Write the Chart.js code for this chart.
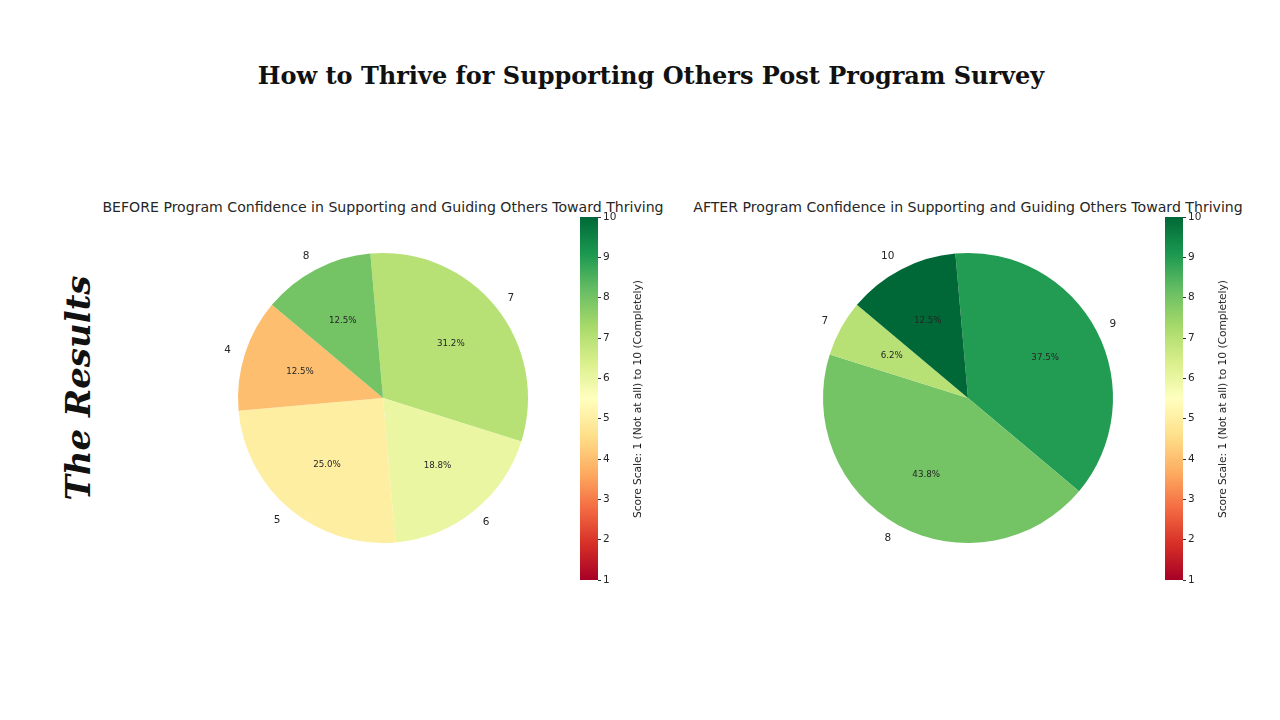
<!DOCTYPE html>
<html>
<head>
<meta charset="utf-8">
<script src="https://cdn.jsdelivr.net/npm/chart.js@4.4.1/dist/chart.umd.min.js"></script>
<style>
  html, body { margin:0; padding:0; background:#fff; }
  body { width:1280px; height:720px; position:relative; overflow:hidden; font-family:"DejaVu Sans", sans-serif; }
  .abs { position:absolute; }
  #mainTitle { left:0; width:1302px; top:61px; text-align:center; font-family:"DejaVu Serif", serif; font-weight:bold; font-size:24px; color:#111; white-space:nowrap; }
  #results { left:78px; top:388px; transform:translate(-50%,-50%) rotate(-90deg); font-family:"DejaVu Serif", serif; font-style:italic; font-weight:bold; font-size:34px; color:#111; white-space:nowrap; }
  .ptitle { top:199px; font-size:14.1px; color:#262626; white-space:nowrap; transform:translateX(-50%); }
  .cblabel { font-size:10.6px; color:#1a1a1a; white-space:nowrap; transform:translate(-50%,-50%) rotate(-90deg); }
  canvas { display:block; }
</style>
</head>
<body>
<div id="mainTitle" class="abs">How to Thrive for Supporting Others Post Program Survey</div>
<div id="results" class="abs">The Results</div>

<div class="abs ptitle" style="left:383px;">BEFORE Program Confidence in Supporting and Guiding Others Toward Thriving</div>
<div class="abs ptitle" style="left:968px;">AFTER Program Confidence in Supporting and Guiding Others Toward Thriving</div>

<div class="abs" style="left:183px;top:198px;width:400px;height:400px;"><canvas id="pieBefore"></canvas></div>
<div class="abs" style="left:768px;top:198px;width:400px;height:400px;"><canvas id="pieAfter"></canvas></div>

<div class="abs" style="left:560px;top:200px;width:80px;height:400px;"><canvas id="cbBefore"></canvas></div>
<div class="abs" style="left:1145px;top:200px;width:80px;height:400px;"><canvas id="cbAfter"></canvas></div>

<div class="abs cblabel" style="left:637px;top:399px;">Score Scale: 1 (Not at all) to 10 (Completely)</div>
<div class="abs cblabel" style="left:1222px;top:399px;">Score Scale: 1 (Not at all) to 10 (Completely)</div>

<script>
// ---- Data ----
const beforeScores = ['7', '6', '5', '4', '8'];
const beforeCounts = [5, 3, 4, 2, 2];
const afterScores = ['9', '8', '7', '10'];
const afterCounts = [6, 7, 1, 2];
const scaleTicks = [1, 2, 3, 4, 5, 6, 7, 8, 9, 10];
const scaleMin = 1;
const scaleMax = 10;

// RdYlGn colormap stops
const rdylgn = ['#a50026','#d73027','#f46d43','#fdae61','#fee08b','#ffffbf','#d9ef8b','#a6d96a','#66bd63','#1a9850','#006837'];

function hexToRgb(h){ return [parseInt(h.slice(1,3),16), parseInt(h.slice(3,5),16), parseInt(h.slice(5,7),16)]; }
function cmap(t){
  t = Math.max(0, Math.min(1, t));
  const pos = t * (rdylgn.length - 1);
  const i = Math.min(Math.floor(pos), rdylgn.length - 2);
  const f = pos - i;
  const a = hexToRgb(rdylgn[i]), b = hexToRgb(rdylgn[i+1]);
  const c = a.map((v,k)=>Math.round(v + (b[k]-v)*f));
  return 'rgb(' + c.join(',') + ')';
}
function scoreColor(s){ return cmap((Number(s) - scaleMin) / (scaleMax - scaleMin)); }

function fmtPct(p){
  const x = p * 10;
  const f = Math.floor(x);
  let r;
  if (Math.abs((x - f) - 0.5) < 1e-9) r = (f % 2 === 0) ? f : f + 1;
  else r = Math.round(x);
  return (r / 10).toFixed(1) + '%';
}

const pieLabelPlugin = {
  id: 'pieLabels',
  afterDatasetsDraw(chart){
    const ctx = chart.ctx;
    const meta = chart.getDatasetMeta(0);
    const data = chart.data.datasets[0].data;
    const total = data.reduce((a,b)=>a+b,0);
    ctx.save();
    meta.data.forEach((arc, i) => {
      const p = arc.getProps(['x','y','startAngle','endAngle','outerRadius'], true);
      const mid = (p.startAngle + p.endAngle) / 2;
      const cx = Math.cos(mid), cy = Math.sin(mid);
      ctx.font = '10.5px "DejaVu Sans"';
      ctx.fillStyle = '#262626';
      ctx.textBaseline = 'middle';
      ctx.textAlign = cx > 0 ? 'left' : 'right';
      ctx.fillText(chart.data.labels[i], p.x + cx * p.outerRadius * 1.1, p.y + cy * p.outerRadius * 1.1);
      ctx.font = '8.7px "DejaVu Sans"';
      ctx.textAlign = 'center';
      ctx.fillText(fmtPct(data[i] / total * 100), p.x + cx * p.outerRadius * 0.6, p.y + cy * p.outerRadius * 0.6);
    });
    ctx.restore();
  }
};

function makePie(id, labels, counts){
  new Chart(document.getElementById(id), {
    type: 'pie',
    data: { labels: labels, datasets: [{ data: counts, backgroundColor: labels.map(scoreColor), borderWidth: 0, hoverOffset: 0 }] },
    options: {
      responsive: true, maintainAspectRatio: false, animation: false,
      rotation: -5,
      layout: { padding: 55 },
      plugins: { legend: { display: false }, tooltip: { enabled: false }, title: { display: false } },
      events: []
    },
    plugins: [pieLabelPlugin]
  });
}
makePie('pieBefore', beforeScores, beforeCounts);
makePie('pieAfter', afterScores, afterCounts);

function makeColorbar(id){
  new Chart(document.getElementById(id), {
    type: 'bar',
    data: { labels: [''], datasets: [{
      data: [[scaleMin, scaleMax]],
      borderWidth: 0,
      barPercentage: 1, categoryPercentage: 1,
      backgroundColor: (c) => {
        const ch = c.chart; const y = ch.scales.y;
        if (!ch.chartArea || !y) return '#ccc';
        const g = ch.ctx.createLinearGradient(0, y.getPixelForValue(scaleMin), 0, y.getPixelForValue(scaleMax));
        for (let k = 0; k <= 40; k++) g.addColorStop(k/40, cmap(k/40));
        return g;
      }
    }]},
    options: {
      responsive: true, maintainAspectRatio: false, animation: false, events: [],
      layout: { padding: { left: 20, right: 12, top: 17, bottom: 20 } },
      plugins: { legend: { display: false }, tooltip: { enabled: false } },
      scales: {
        x: { display: false },
        y: {
          position: 'right', min: scaleMin, max: scaleMax,
          afterBuildTicks: (s) => { s.ticks = scaleTicks.map(v => ({ value: v })); },
          afterFit: (s) => { s.width = 30; },
          grid: { display: true, drawOnChartArea: false, drawTicks: true, tickLength: 3, color: '#333' },
          border: { display: false },
          ticks: { padding: 2, color: '#262626', font: { family: 'DejaVu Sans', size: 10.5 } }
        }
      }
    }
  });
}
makeColorbar('cbBefore');
makeColorbar('cbAfter');
</script>
</body>
</html>
